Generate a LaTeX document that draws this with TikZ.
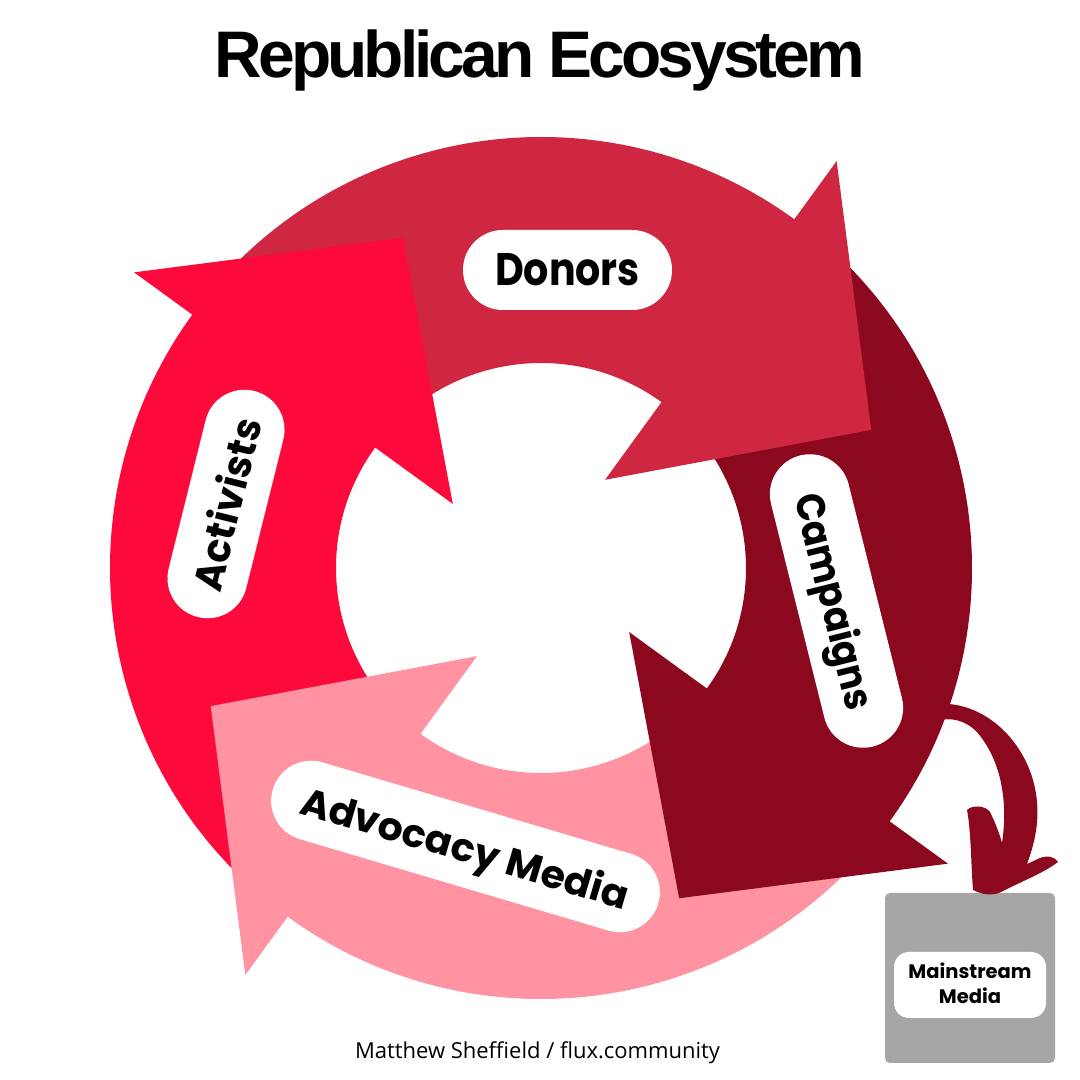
\documentclass[tikz,border=0pt]{standalone}
\usepackage{fontspec}
\usepackage{graphicx}
\setmainfont{Liberation Sans}
\newfontfamily\popfont{Poppins}
\newfontfamily\titlefont{Liberation Sans}[LetterSpace=-6]
\newfontfamily\footfont{Open Sans}
\definecolor{actred}{HTML}{FB0A3B}
\definecolor{donred}{HTML}{CF2641}
\definecolor{camred}{HTML}{8B081E}
\definecolor{advpink}{HTML}{FF93A2}
\definecolor{mmgray}{HTML}{A6A6A6}
\newcommand\ringseg[3]{\fill[#1] (#2:431) arc[start angle=#2, end angle=#3, radius=431] -- (#3:205) arc[start angle=#3, end angle=#2, radius=205] -- cycle;}
\newcommand\headtri[2]{\fill[#1] (#2:503) -- (#2-31.3:358) -- (#2:109) -- cycle;}
\newcommand\lbl[3]{\resizebox{#1}{#2}{\popfont\bfseries #3}}
\begin{document}
\begin{tikzpicture}[x=1pt,y=1pt,
  pill/.style={fill=white, rounded corners=39.9pt, minimum height=80pt, inner sep=0pt, text depth=0pt}]
\useasboundingbox (0,0) rectangle (1080,1080);
\fill[white] (0,0) rectangle (1080,1080);
% title
\node[anchor=base, inner sep=0pt] (title) at (540,1002) {\resizebox{650pt}{!}{\titlefont\bfseries\fontsize{67}{67}\selectfont Republican Ecosystem}};
% ring
\begin{scope}[shift={(541,512)}]
  \ringseg{actred}{230}{143}
  \ringseg{donred}{140}{53}
  \ringseg{camred}{50}{-37}
  \ringseg{advpink}{-40}{-127}
  \headtri{actred}{144}
  \headtri{donred}{54}
  \headtri{camred}{-36}
  \headtri{advpink}{-126}
\end{scope}
% labels
\node[pill, minimum width=209pt] (donors) at (567.5,810) {\lbl{145pt}{32pt}{Donors}};
\node[pill, minimum width=233pt, rotate=76] (activists) at (226,576) {\lbl{176pt}{32pt}{Activists}};
\node[pill, minimum width=300pt, rotate=-76] (campaigns) at (836.5,479) {\lbl{222pt}{32pt}{Campaigns}};
\node[pill, minimum width=402pt, rotate=-16.5] (advocacy) at (465.5,233.5) {\lbl{340pt}{31pt}{Advocacy Media}};
% mainstream media
\node[fill=mmgray, rounded corners=5pt, minimum width=170pt, minimum height=170pt, inner sep=0pt] (mmbox) at (970,102) {};
\node[fill=white, rounded corners=15pt, minimum width=152pt, minimum height=66pt, inner sep=0pt] (mmpill) at (970,95) {};
\node[align=center, inner sep=0pt, font=\popfont\bfseries\fontsize{19.5}{25}\selectfont] (mmtext) at (970,97) {Mainstream\\Media};
% small curved arrow
\begin{scope}[shift={(0,1080)}, yscale=-1]
\fill[camred] (932,722) -- (935,704) .. controls (980,700) and (1020,735) .. (1033,780)
  .. controls (1042,812) and (1036,840) .. (1027,864) -- (1040,858)
  .. controls (1048,855) and (1055,857) .. (1058,862)
  .. controls (1045,872) and (1025,880) .. (1005,890)
  .. controls (995,896) and (985,896) .. (973,890)
  .. controls (971,865) and (971,830) .. (967,810)
  .. controls (972,805) and (985,805) .. (990,812)
  .. controls (995,822) and (1000,835) .. (1002,843)
  .. controls (1007,810) and (1005,765) .. (977,732)
  .. controls (965,720) and (950,716) .. (932,722) -- cycle;
\end{scope}
% footer
\node[anchor=base, inner sep=0pt] (credit) at (537.5,22) {\resizebox{365pt}{!}{\footfont Matthew Sheffield / flux.community}};
\end{tikzpicture}
\end{document}
